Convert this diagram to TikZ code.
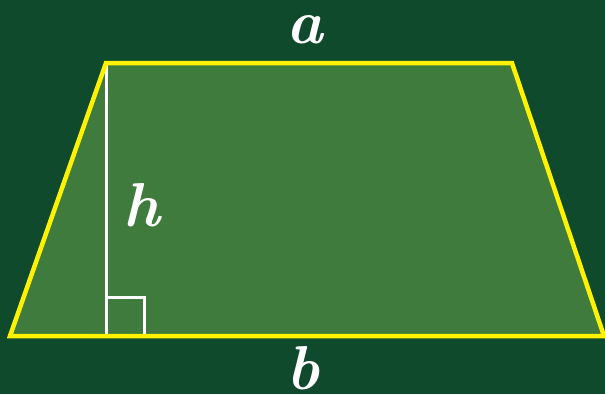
\documentclass[tikz,border=0pt]{standalone}
\begin{document}
\begin{tikzpicture}[x=1pt,y=-1pt,
  edge/.style={draw=yellow,line width=4.5pt,line join=miter},
  hline/.style={draw=white,line width=3pt},
  lbl/.style={text=white,draw=white,line width=1pt,font=\fontsize{62}{64}\selectfont\bfseries\itshape,inner sep=0pt,anchor=base,draw opacity=0}]
\definecolor{bg}{HTML}{0F4A2C}
\definecolor{trap}{HTML}{3F7B3C}
\fill[bg] (0,0) rectangle (605,394);
\useasboundingbox (0,0) rectangle (605,394);
\coordinate (tl) at (106,63);
\coordinate (tr) at (512,63);
\coordinate (br) at (604,336);
\coordinate (bl) at (10,336);
\coordinate (foot) at (106,336);
\fill[trap] (tl) -- (tr) -- (br) -- (bl) -- cycle;
\draw[hline] (tl) -- (foot);
\draw[hline] (106,297) -- (144,297) -- (144,336);
\draw[edge] (tl) -- (tr) -- (br) -- (bl) -- cycle;
\node[lbl] (a) at (305,43) {a};
\node[lbl] (h) at (142,226) {h};
\node[lbl] (b) at (303,389) {b};
\end{tikzpicture}
\end{document}
